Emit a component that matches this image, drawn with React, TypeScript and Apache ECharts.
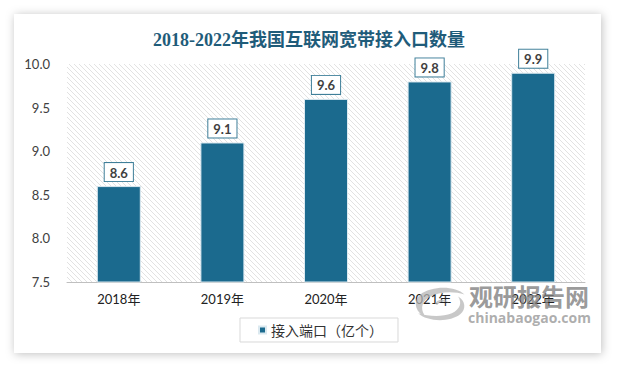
import React, { useEffect, useRef } from "react";
import * as echarts from "echarts";

const categories = ["2018年", "2019年", "2020年", "2021年", "2022年"];
const values = [8.6, 9.1, 9.6, 9.8, 9.9];
const seriesName = "接入端口（亿个）";
const titleText = "2018-2022年我国互联网宽带接入口数量";
const yMin = 7.5;
const yMax = 10;
const yInterval = 0.5;

const logoPath =
  "M48 8 C40 0 18 -1 6 8 C-2 15 2 26 12 30 C6 24 6 16 14 11 C24 5 38 5 48 8 Z " +
  "M4 26 C12 34 34 35 44 27 C50 22 49 14 42 10 C46 16 44 22 36 26 C26 30 14 29 4 26 Z " +
  "M20 17 C22 12 30 12 33 16 C30 14 25 14 22 18 Z";

let registered = false;

const hatchSvg =
  "data:image/svg+xml;charset=utf-8," +
  encodeURIComponent(
    '<svg xmlns="http://www.w3.org/2000/svg" width="5" height="5"><rect width="5" height="5" fill="#ffffff"/><path d="M-1 -1 L6 6 M-1 4 L1 6 M4 -1 L6 1" stroke="#e2e2e2" stroke-width="1"/></svg>'
  );

export default function App() {
  const ref = useRef<HTMLDivElement>(null);
  useEffect(() => {
    if (!ref.current) return;
    if (!registered) {
      echarts.graphic.registerShape("logo", echarts.graphic.extendPath(logoPath, {}));
      registered = true;
    }
    const chart = echarts.init(ref.current, null, { renderer: "svg" });
    chart.setOption({
      animation: false,
      backgroundColor: "#ffffff",
      title: {
        text: titleText,
        left: "center",
        top: 26,
        textStyle: {
          fontFamily: "'Liberation Serif', 'Noto Sans CJK SC', serif",
          fontWeight: "bold",
          fontSize: 18,
          color: "#1f5c7a",
        },
      },
      graphic: [
        {
          type: "rect",
          z: -10,
          shape: { x: 14, y: 14, width: 587, height: 339 },
          style: {
            fill: "#ffffff",
            shadowBlur: 10,
            shadowColor: "rgba(0,0,0,0.25)",
            shadowOffsetX: 1,
            shadowOffsetY: 1,
          },
        },
        {
          type: "rect",
          z: -5,
          shape: { x: 67, y: 64, width: 518, height: 218 },
          style: { fill: { image: hatchSvg, repeat: "repeat" } as any },
        },
        {
          type: "logo",
          x: 414,
          y: 286,
          scaleX: 1.05,
          scaleY: 1.05,
          z: 10,
          style: { fill: "#b5b5b5", opacity: 0.75 },
        },
        {
          type: "text",
          x: 469,
          y: 283,
          z: 10,
          style: {
            text: "观研报告网",
            fontSize: 24,
            fontWeight: "bold",
            fontFamily: "'Noto Sans CJK SC', sans-serif",
            fill: "#808080",
            opacity: 0.8,
          },
        },
        {
          type: "text",
          x: 468,
          y: 310,
          z: 10,
          style: {
            text: "chinabaogao.com",
            fontSize: 14,
            fontWeight: "bold",
            fontFamily: "'Open Sans', sans-serif",
            fill: "#a0a0a0",
            opacity: 0.85,
          },
        },
      ],
      legend: {
        data: [seriesName],
        left: 240,
        top: 318,
        padding: [5, 15, 5, 18],
        borderColor: "#d9d9d9",
        borderWidth: 1,
        backgroundColor: "#ffffff",
        icon: "rect",
        itemWidth: 7,
        itemHeight: 7,
        itemGap: 5,
        textStyle: {
          fontSize: 14,
          color: "#333333",
          fontFamily: "'Noto Sans CJK SC', sans-serif",
        },
      },
      grid: { left: 67, top: 64, width: 518, height: 218, containLabel: false },
      xAxis: {
        type: "category",
        data: categories,
        axisLine: { show: true, lineStyle: { color: "#bfbfbf", width: 1 } },
        axisTick: { show: false },
        axisLabel: {
          margin: 10,
          fontSize: 13,
          color: "#222222",
          fontFamily: "Lato, 'Noto Sans CJK SC', sans-serif",
        },
      },
      yAxis: {
        type: "value",
        min: yMin,
        max: yMax,
        interval: yInterval,
        splitLine: { show: false },
        axisLine: { show: false },
        axisTick: { show: false },
        axisLabel: {
          margin: 17,
          fontSize: 13,
          color: "#404040",
          fontFamily: "Lato, sans-serif",
          formatter: (v: number) => v.toFixed(1),
        },
      },
      series: [
        {
          name: seriesName,
          type: "bar",
          data: values,
          barWidth: 44,
          z: 2,
          itemStyle: { color: "#1b6a8e", borderColor: "#dbe9f0", borderWidth: 1 },
          label: {
            show: true,
            position: "top",
            distance: 5,
            formatter: (p: any) => Number(p.value).toFixed(1),
            backgroundColor: "#ffffff",
            borderColor: "#3f7f99",
            borderWidth: 1,
            padding: [3, 5, 2, 5],
            fontSize: 13,
            fontWeight: "bold",
            color: "#404040",
            fontFamily: "Lato, sans-serif",
          },
        },
      ],
    });
    return () => chart.dispose();
  }, []);
  return (
    <div
      ref={ref}
      style={{ position: "absolute", left: 0, top: 0, width: 618, height: 365 }}
    />
  );
}
